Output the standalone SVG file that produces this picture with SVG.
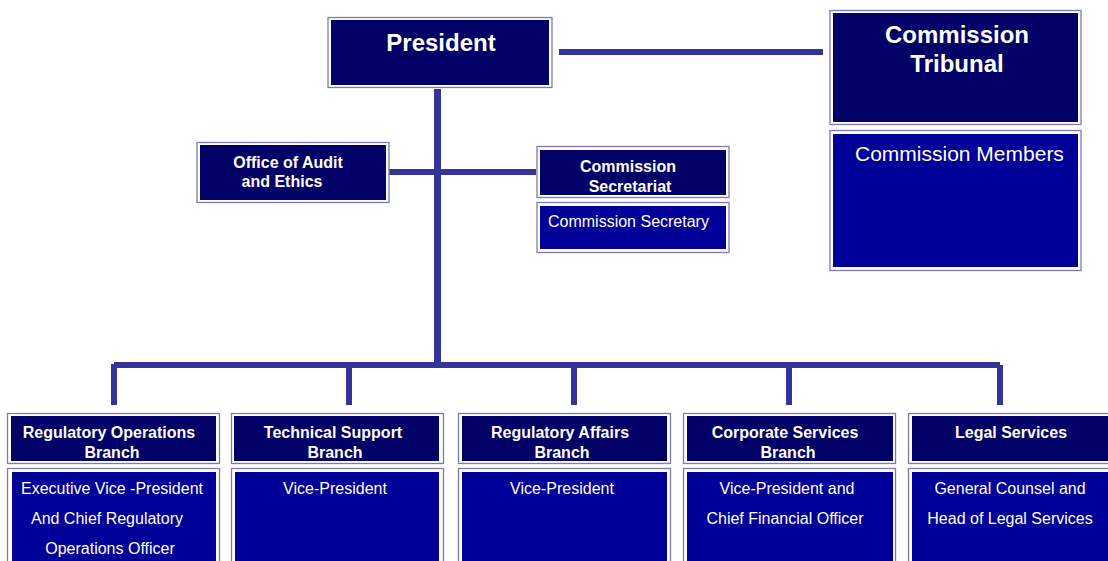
<svg xmlns="http://www.w3.org/2000/svg" width="1108" height="561" viewBox="0 0 1108 561">
<style>
.frame{fill:#ffffff;stroke:#7a7abb;stroke-width:1.3}
.hd{fill:#000066}
.bd{fill:#000099}
.conn{fill:#333399}
text{font-family:"Liberation Sans",Arial,sans-serif;fill:#ffffff}
.b{font-weight:bold}
.t16{font-size:16px}
.t24{font-size:24px}
.m{text-anchor:middle}
</style>
<rect width="1108" height="561" fill="#ffffff"/>
<g id="connectors">
<rect class="conn" x="559" y="49" width="264" height="6"/>
<rect class="conn" x="434" y="89" width="7" height="276"/>
<rect class="conn" x="389" y="169" width="147" height="6"/>
<rect class="conn" x="114" y="362" width="886" height="6"/>
<rect class="conn" x="111" y="364" width="6" height="41"/>
<rect class="conn" x="346" y="365" width="6" height="40"/>
<rect class="conn" x="571" y="365" width="6" height="40"/>
<rect class="conn" x="786" y="365" width="6" height="40"/>
<rect class="conn" x="997" y="365" width="6" height="40"/>
</g>
<g id="president">
<rect class="frame" x="328" y="17.5" width="224" height="70"/>
<rect class="hd" x="331" y="20" width="218" height="65"/>
<text class="b t24 m" x="441" y="51">President</text>
</g>
<g id="tribunal">
<rect class="frame" x="830" y="10.5" width="251" height="114"/>
<rect class="hd" x="833" y="13" width="245" height="109"/>
<text class="b t24 m" x="957" y="43">Commission</text>
<text class="b t24 m" x="957" y="72">Tribunal</text>
</g>
<g id="members">
<rect class="frame" x="830" y="130.5" width="251" height="140"/>
<rect class="bd" x="833" y="134" width="245" height="133"/>
<text x="855" y="161" font-size="21">Commission Members</text>
</g>
<g id="audit">
<rect class="frame" x="197" y="142.5" width="192" height="60"/>
<rect class="hd" x="200" y="145" width="186" height="55"/>
<text class="b t16 m" x="288" y="168">Office of Audit</text>
<text class="b t16 m" x="282" y="187">and Ethics</text>
</g>
<g id="secretariat">
<rect class="frame" x="537" y="146.5" width="192" height="51"/>
<rect class="hd" x="540" y="150" width="186" height="45"/>
<text class="b t16 m" x="628" y="172">Commission</text>
<text class="b t16 m" x="630" y="192">Secretariat</text>
</g>
<g id="secretary">
<rect class="frame" x="537" y="202.5" width="192" height="50"/>
<rect class="bd" x="540" y="206" width="186" height="43"/>
<text class="t16" x="548" y="227">Commission Secretary</text>
</g>
<g id="reg-ops">
<rect class="frame" x="7.5" y="413.5" width="212" height="50"/>
<rect class="hd" x="11" y="416" width="205" height="45"/>
<text class="b t16 m" x="109" y="438">Regulatory Operations</text>
<text class="b t16 m" x="112" y="458">Branch</text>
<rect class="frame" x="7.5" y="468.5" width="212" height="100"/>
<rect class="bd" x="12" y="472" width="204" height="95"/>
<text class="t16 m" x="112" y="494">Executive Vice -President</text>
<text class="t16 m" x="107" y="524">And Chief Regulatory</text>
<text class="t16 m" x="110" y="554">Operations Officer</text>
</g>
<g id="tech">
<rect class="frame" x="231.5" y="413.5" width="212" height="50"/>
<rect class="hd" x="234" y="416" width="205" height="45"/>
<text class="b t16 m" x="333" y="438">Technical Support</text>
<text class="b t16 m" x="335" y="458">Branch</text>
<rect class="frame" x="231.5" y="468.5" width="212" height="100"/>
<rect class="bd" x="235" y="472" width="204" height="95"/>
<text class="t16 m" x="335" y="494">Vice-President</text>
</g>
<g id="reg-affairs">
<rect class="frame" x="458.5" y="413.5" width="212" height="50"/>
<rect class="hd" x="462" y="416" width="205" height="45"/>
<text class="b t16 m" x="560" y="438">Regulatory Affairs</text>
<text class="b t16 m" x="562" y="458">Branch</text>
<rect class="frame" x="458.5" y="468.5" width="212" height="100"/>
<rect class="bd" x="462" y="472" width="205" height="95"/>
<text class="t16 m" x="562" y="494">Vice-President</text>
</g>
<g id="corporate">
<rect class="frame" x="683.5" y="413.5" width="212" height="50"/>
<rect class="hd" x="687" y="416" width="206" height="45"/>
<text class="b t16 m" x="785" y="438">Corporate Services</text>
<text class="b t16 m" x="788" y="458">Branch</text>
<rect class="frame" x="683.5" y="468.5" width="212" height="100"/>
<rect class="bd" x="687" y="472" width="206" height="95"/>
<text class="t16 m" x="787" y="494">Vice-President and</text>
<text class="t16 m" x="785" y="524">Chief Financial Officer</text>
</g>
<g id="legal">
<rect class="frame" x="908.5" y="413.5" width="212" height="50"/>
<rect class="hd" x="912" y="416" width="206" height="45"/>
<text class="b t16 m" x="1011" y="438">Legal Services</text>
<rect class="frame" x="908.5" y="468.5" width="212" height="100"/>
<rect class="bd" x="912" y="472" width="206" height="95"/>
<text class="t16 m" x="1010" y="494">General Counsel and</text>
<text class="t16 m" x="1010" y="524">Head of Legal Services</text>
</g>
</svg>
